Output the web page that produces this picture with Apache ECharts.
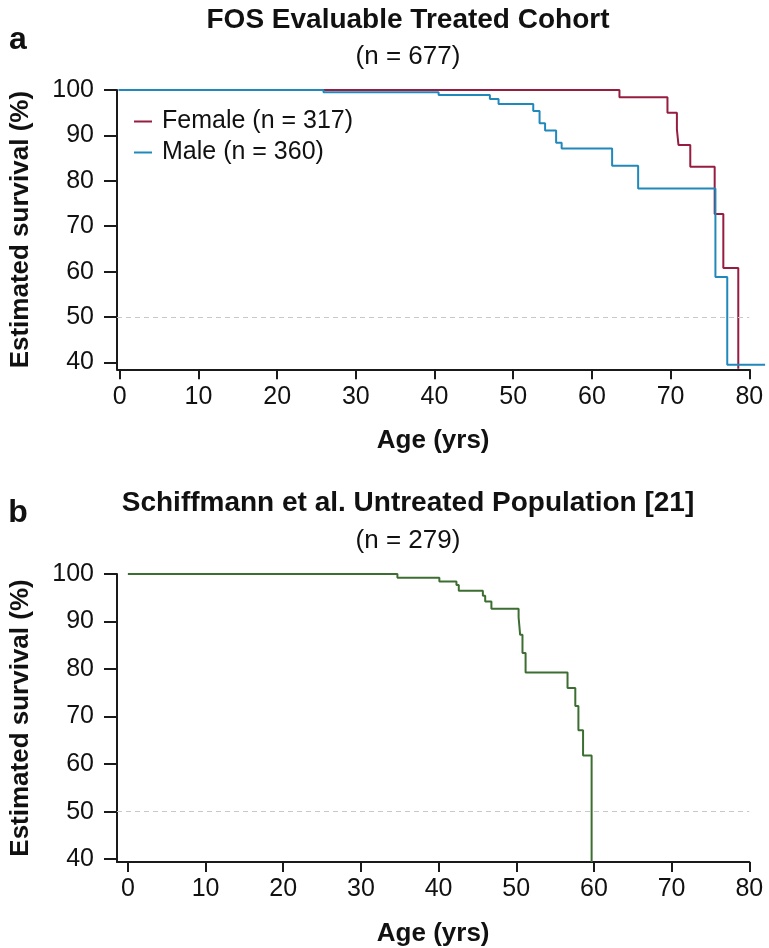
<!DOCTYPE html>
<html>
<head>
<meta charset="utf-8">
<script src="https://cdn.jsdelivr.net/npm/echarts@6/dist/echarts.min.js"></script>
<style>
html,body{margin:0;padding:0;background:#fff;}
#chart{width:769px;height:948px;}
</style>
</head>
<body>
<div id="chart"></div>
<script>
// ---- data ----
var xTicks = [0, 10, 20, 30, 40, 50, 60, 70, 80];
var yTicks = [40, 50, 60, 70, 80, 90, 100];

// Panel a: FOS evaluable treated cohort (age, survival % after step)
var femaleAge = [0, 63.5, 69.6, 70.8, 71.0, 72.5, 75.6, 76.7, 78.6];
var femaleSurv = [100, 98.4, 95.0, 91.3, 87.9, 83.1, 72.7, 60.8, 38.6];

var maleAge = [0, 26.0, 40.6, 47.1, 48.2, 52.6, 53.4, 54.1, 55.5, 56.2, 62.6, 65.9, 75.7, 77.2, 82.0];
var maleSurv = [100, 99.5, 98.9, 98.0, 96.9, 95.4, 92.7, 91.1, 88.4, 87.1, 83.3, 78.3, 58.8, 39.5, 39.5];

// Panel b: Schiffmann et al. untreated population
var untreatedAge = [0, 34.7, 40.1, 42.3, 42.6, 45.7, 46.0, 46.8, 50.3, 50.5, 50.8, 51.2, 56.6, 57.6, 58.0, 58.6, 59.7];
var untreatedSurv = [100, 99.2, 98.4, 97.7, 96.5, 95.4, 94.2, 92.7, 90.9, 87.2, 83.4, 79.3, 76.0, 72.2, 67.1, 61.8, 39.4];

var refLine = 50;

function pairs(xs, ys) {
  return xs.map(function (x, i) { return [x, ys[i]]; });
}

var FONT = "'Liberation Sans', Arial, Helvetica, sans-serif";
var AXIS_COLOR = '#1a1a1a';

function xAxisCfg(gridIndex, min) {
  return {
    type: 'value', gridIndex: gridIndex, min: min, max: 80,
    name: 'Age (yrs)', nameLocation: 'middle', nameGap: 59,
    nameTextStyle: { fontFamily: FONT, fontSize: 26, fontWeight: 'bold', color: '#111' },
    axisLine: { show: true, onZero: false, lineStyle: { color: AXIS_COLOR, width: 2 } },
    axisTick: { show: true, length: 10, lineStyle: { color: AXIS_COLOR, width: 2 }, customValues: xTicks },
    axisLabel: { fontFamily: FONT, fontSize: 25, color: '#111', margin: 15, customValues: xTicks },
    splitLine: { show: false }
  };
}
function yAxisCfg(gridIndex, min) {
  return {
    type: 'value', gridIndex: gridIndex, min: min, max: 100,
    name: 'Estimated survival (%)', nameLocation: 'middle', nameGap: 83, nameRotate: 90,
    nameTextStyle: { fontFamily: FONT, fontSize: 26, fontWeight: 'bold', color: '#111' },
    axisLine: { show: true, onZero: false, lineStyle: { color: AXIS_COLOR, width: 2 } },
    axisTick: { show: true, length: 13, lineStyle: { color: AXIS_COLOR, width: 2 }, customValues: yTicks },
    axisLabel: { fontFamily: FONT, fontSize: 25, color: '#111', margin: 23, customValues: yTicks },
    splitLine: { show: false }
  };
}
function hiddenAxis(gridIndex, min, max) {
  return { type: 'value', gridIndex: gridIndex, min: min, max: max, show: false, splitLine: { show: false } };
}
function refMark() {
  return {
    symbol: 'none', silent: true, label: { show: false },
    lineStyle: { color: '#c8c8c8', type: [5, 4], width: 1 },
    data: [{ yAxis: refLine }]
  };
}

var chart = echarts.init(document.getElementById('chart'), null, { renderer: 'canvas' });

chart.setOption({
  animation: false,
  backgroundColor: '#ffffff',
  grid: [
    { left: 115.7, right: 19.7, top: 90, bottom: 578.7 },  // panel a axes (0-80)
    { left: 115.7, right: 3.9, top: 90, bottom: 578.7 },   // panel a, same scale extended to 82 yrs
    { left: 114.3, right: 19.7, top: 574, bottom: 86 }     // panel b
  ],
  xAxis: [xAxisCfg(0, -0.35), hiddenAxis(1, -0.35, 82), xAxisCfg(2, -1.4)],
  yAxis: [yAxisCfg(0, 38.5), hiddenAxis(1, 38.5, 100), yAxisCfg(2, 39.4)],
  legend: {
    data: ['Female (n = 317)', 'Male (n = 360)'],
    orient: 'vertical', left: 129, top: 104, itemGap: 6,
    icon: 'rect', itemWidth: 18, itemHeight: 2,
    textStyle: { fontFamily: FONT, fontSize: 25, color: '#111', padding: [0, 0, 0, 5] },
    selectedMode: false
  },
  graphic: [
    { type: 'text', x: 408, y: 20, style: { text: 'FOS Evaluable Treated Cohort', font: 'bold 28px ' + FONT, fill: '#111', align: 'center', verticalAlign: 'middle', textAlign: 'center', textVerticalAlign: 'middle' } },
    { type: 'text', x: 408, y: 57, style: { text: '(n = 677)', font: '26px ' + FONT, fill: '#111', align: 'center', verticalAlign: 'middle', textAlign: 'center', textVerticalAlign: 'middle' } },
    { type: 'text', x: 18, y: 40, style: { text: 'a', font: 'bold 32px ' + FONT, fill: '#111', align: 'center', verticalAlign: 'middle', textAlign: 'center', textVerticalAlign: 'middle' } },
    { type: 'text', x: 408, y: 503, style: { text: 'Schiffmann et al. Untreated Population [21]', font: 'bold 28px ' + FONT, fill: '#111', align: 'center', verticalAlign: 'middle', textAlign: 'center', textVerticalAlign: 'middle' } },
    { type: 'text', x: 408, y: 541, style: { text: '(n = 279)', font: '26px ' + FONT, fill: '#111', align: 'center', verticalAlign: 'middle', textAlign: 'center', textVerticalAlign: 'middle' } },
    { type: 'text', x: 18, y: 513, style: { text: 'b', font: 'bold 32px ' + FONT, fill: '#111', align: 'center', verticalAlign: 'middle', textAlign: 'center', textVerticalAlign: 'middle' } }
  ],
  series: [
    {
      name: 'Female (n = 317)', type: 'line', xAxisIndex: 0, yAxisIndex: 0,
      step: 'end', showSymbol: false, symbol: 'none',
      itemStyle: { color: '#961c40' },
      lineStyle: { color: '#961c40', width: 2 },
      data: pairs(femaleAge, femaleSurv),
      markLine: refMark(), z: 2
    },
    {
      name: 'Male (n = 360)', type: 'line', xAxisIndex: 1, yAxisIndex: 1,
      step: 'end', showSymbol: false, symbol: 'none',
      itemStyle: { color: '#2088bb' },
      lineStyle: { color: '#2088bb', width: 2 },
      data: pairs(maleAge, maleSurv), z: 3
    },
    {
      name: 'Untreated (n = 279)', type: 'line', xAxisIndex: 2, yAxisIndex: 2,
      step: 'end', showSymbol: false, symbol: 'none',
      itemStyle: { color: '#3c6e32' },
      lineStyle: { color: '#3c6e32', width: 2 },
      data: pairs(untreatedAge, untreatedSurv),
      markLine: refMark(), z: 2
    }
  ]
});
</script>
</body>
</html>
